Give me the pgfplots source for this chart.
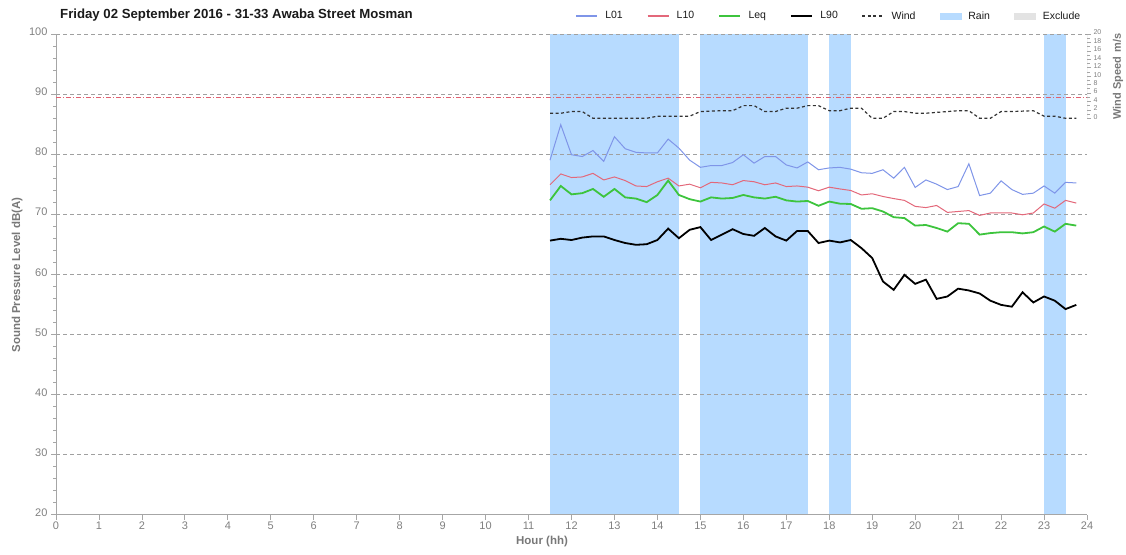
\documentclass[border=0pt]{standalone}
\usepackage{fontspec}
\setmainfont{Liberation Sans}
\usepackage{pgfplots}
\pgfplotsset{compat=1.18}
\usepackage{pgfplotstable}

\definecolor{rainblue}{RGB}{183,219,255}
\definecolor{excl}{RGB}{227,227,227}
\definecolor{lone}{RGB}{127,149,232}
\definecolor{lten}{RGB}{227,104,122}
\definecolor{leqc}{RGB}{61,196,61}
\definecolor{windc}{RGB}{51,51,51}
\definecolor{gridgray}{RGB}{160,160,160}
\definecolor{axisgray}{RGB}{166,166,166}
\definecolor{tickgray}{RGB}{128,128,128}
\definecolor{labelgray}{RGB}{120,120,120}
\definecolor{titlec}{RGB}{26,26,26}
\definecolor{threshred}{RGB}{224,96,112}

% 15 minute values, wind in m/s
\pgfplotstableread{
x     L01   L10   Leq   L90   wind
11.5  79.0  74.9  72.3  65.6  1.2
11.75 84.9  76.7  74.7  65.9  1.2
12    79.9  76.1  73.3  65.7  1.6
12.25 79.6  76.2  73.5  66.1  1.6
12.5  80.6  76.8  74.2  66.3  0
12.75 78.8  75.7  72.9  66.3  0
13    82.9  76.2  74.2  65.7  0
13.25 80.9  75.6  72.8  65.2  0
13.5  80.3  74.7  72.6  64.9  0
13.75 80.2  74.6  72.0  65.0  0
14    80.2  75.4  73.2  65.7  0.5
14.25 82.5  76.0  75.6  67.6  0.5
14.5  81.0  74.7  73.2  66.0  0.5
14.75 79.0  75.0  72.5  67.4  0.5
15    77.8  74.4  72.1  67.85 1.6
15.25 78.1  75.3  72.8  65.7  1.7
15.5  78.1  75.2  72.6  66.6  1.8
15.75 78.6  74.9  72.7  67.5  1.8
16    79.9  75.6  73.2  66.7  3.0
16.25 78.5  75.4  72.8  66.4  3.0
16.5  79.6  74.9  72.6  67.7  1.6
16.75 79.6  75.2  72.9  66.3  1.6
17    78.2  74.6  72.3  65.6  2.4
17.25 77.7  74.7  72.1  67.2  2.4
17.5  78.7  74.5  72.2  67.2  3.0
17.75 77.4  73.9  71.4  65.2  3.0
18    77.7  74.5  72.1  65.6  1.8
18.25 77.8  74.2  71.75 65.3  1.8
18.5  77.5  73.95 71.7  65.7  2.4
18.75 76.9  73.2  70.9  64.35 2.4
19    76.8  73.4  71.0  62.7  0
19.25 77.4  72.95 70.45 58.8  0
19.5  76.0  72.6  69.5  57.4  1.6
19.75 77.8  72.3  69.35 59.9  1.6
20    74.45 71.3  68.1  58.4  1.2
20.25 75.7  71.1  68.2  59.1  1.2
20.5  75.0  71.45 67.7  55.9  1.4
20.75 74.1  70.3  67.1  56.3  1.6
21    74.6  70.45 68.5  57.6  1.8
21.25 78.4  70.6  68.4  57.3  1.8
21.5  73.1  69.8  66.6  56.8  0
21.75 73.5  70.2  66.85 55.6  0
22    75.55 70.2  67.0  54.9  1.6
22.25 74.1  70.2  67.0  54.6  1.6
22.5  73.3  69.9  66.8  57.0  1.7
22.75 73.5  70.2  67.0  55.3  1.8
23    74.7  71.7  67.95 56.3  0.5
23.25 73.5  71.0  67.1  55.6  0.5
23.5  75.3  72.3  68.4  54.2  0
23.75 75.2  71.85 68.1  54.9  0
}\noisedata

\begin{document}
\begin{tikzpicture}

    \begin{axis}[
        set layers,
        scale only axis,
        width = 1031pt, height = 480.5pt,
        at = {(0pt,0pt)}, anchor = south west,
        xmin = 0, xmax = 24,
        ymin = 20, ymax = 100,
        xtick = {0,...,24},
        ytick = {20,30,...,100},
        minor y tick num = 4,
        axis x line* = bottom,
        axis y line* = left,
        axis line style = {-, draw = axisgray, line width = 1pt},
        tick align = outside,
        major tick length = 5pt,
        minor tick length = 3pt,
        tick style = {axisgray, line width = 0.8pt},
        ymajorgrids,
        grid style = {gridgray, dash pattern = on 4pt off 3pt, line width = 0.7pt},
        /pgf/number format/assume math mode = true,
        tick label style = {font = \fontsize{11}{13}\selectfont, text = tickgray},
        yticklabel style = {yshift = 2pt},
        xticklabel style = {yshift = 1.5pt},
        xlabel = {Hour (hh)},
        xlabel style = {at = {(axis description cs:0.4714,-0.0552)}, anchor = center,
                        font = \bfseries\fontsize{11.5}{13}\selectfont, text = labelgray},
        ylabel = {Sound Pressure Level dB(A)},
        ylabel style = {at = {(axis description cs:-0.0378,0.4984)}, anchor = center,
                        font = \bfseries\fontsize{11.5}{13}\selectfont, text = labelgray},
        legend columns = 7,
        legend image code/.code = {\draw[#1] (0pt,0pt) -- (21pt,0pt);},
        legend style = {
            draw = none, fill = none,
            at = {(axis description cs:0.9985,1.0375)}, anchor = east,
            font = \fontsize{10.5}{12}\selectfont, text = titlec,
            /tikz/every odd column/.append style = {column sep = 5.5pt},
            /tikz/every even column/.append style = {column sep = 22pt}
        }
    ]

        % rain periods
        \addplot[fill = rainblue, draw = none, on layer = axis background, forget plot]
            coordinates { (11.5,20) (11.5,100) (14.5,100) (14.5,20) } -- cycle;
        \addplot[fill = rainblue, draw = none, on layer = axis background, forget plot]
            coordinates { (15,20) (15,100) (17.5,100) (17.5,20) } -- cycle;
        \addplot[fill = rainblue, draw = none, on layer = axis background, forget plot]
            coordinates { (18,20) (18,100) (18.5,100) (18.5,20) } -- cycle;
        \addplot[fill = rainblue, draw = none, on layer = axis background, forget plot]
            coordinates { (23,20) (23,100) (23.5,100) (23.5,20) } -- cycle;

        \addplot[lone, line width = 1pt, forget plot] table[x = x, y = L01] {\noisedata};
        \addplot[lten, line width = 1pt, forget plot] table[x = x, y = L10] {\noisedata};
        \addplot[leqc, line width = 1.8pt, forget plot] table[x = x, y = Leq] {\noisedata};
        \addplot[black, line width = 1.8pt, forget plot] table[x = x, y = L90] {\noisedata};

        \addlegendimage{lone, line width = 1.4pt}
        \addlegendentry{L01}
        \addlegendimage{lten, line width = 1.4pt}
        \addlegendentry{L10}
        \addlegendimage{leqc, line width = 1.8pt}
        \addlegendentry{Leq}
        \addlegendimage{black, line width = 1.8pt}
        \addlegendentry{L90}
        \addlegendimage{windc, line width = 1.2pt, dash pattern = on 3pt off 2.5pt}
        \addlegendentry{Wind}
        \addlegendimage{legend image code/.code = {\fill[rainblue] (0pt,-3pt) rectangle (21pt,3pt);}}
        \addlegendentry{Rain}
        \addlegendimage{legend image code/.code = {\fill[excl] (0pt,-3pt) rectangle (21pt,3pt);}}
        \addlegendentry{Exclude}

    \end{axis}

    % wind speed axis
    \begin{axis}[
        scale only axis,
        width = 1031pt, height = 480.5pt,
        at = {(0pt,0pt)}, anchor = south west,
        xmin = 0, xmax = 24,
        ymin = -94, ymax = 20,
        axis x line = none,
        axis y line* = right,
        y axis line style = {draw = none},
        ytick = {0,2,...,20},
        minor y tick num = 1,
        tick align = outside,
        major tick length = 4pt,
        minor tick length = 2.5pt,
        tick style = {axisgray, line width = 0.7pt},
        /pgf/number format/assume math mode = true,
        yticklabel style = {font = \fontsize{7}{8}\selectfont, text = tickgray, xshift = -1pt, yshift = 1.5pt}
    ]
        \addplot[threshred, line width = 0.6pt, dash pattern = on 5pt off 2pt on 1pt off 2pt]
            coordinates { (0,5) (24,5) };
        \addplot[windc, line width = 1.2pt, dash pattern = on 3pt off 2.5pt]
            table[x = x, y = wind] {\noisedata};
        \draw[axisgray, line width = 1pt] (axis cs:24,0) -- (axis cs:24,20);
    \end{axis}

    \node[rotate = 90, font = \bfseries\fontsize{11}{13}\selectfont, text = labelgray, inner sep = 0pt]
        at (1062pt,438pt) {Wind Speed\hspace{0.4em}m/s};

    \node[anchor = west, inner sep = 0pt, font = \bfseries\fontsize{13.2}{15}\selectfont, text = titlec]
        at (4pt,499pt) {Friday 02 September 2016 - 31-33 Awaba Street Mosman};

    \pgfresetboundingbox
    \path[use as bounding box] (-56pt,-39.5pt) rectangle (1070pt,514.5pt);

\end{tikzpicture}
\end{document}
